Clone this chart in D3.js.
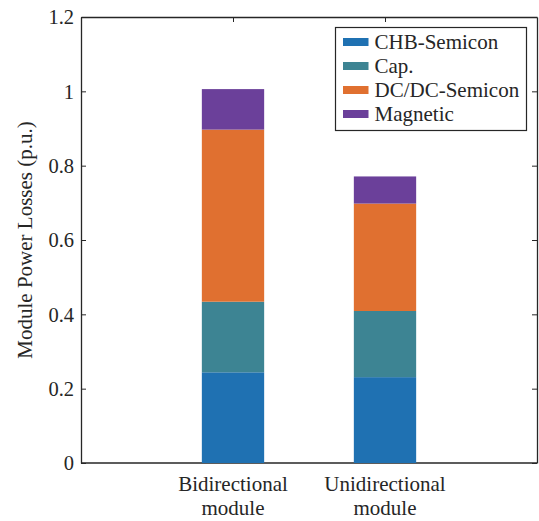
<!DOCTYPE html>
<html>
<head>
<meta charset="utf-8">
<script src="https://cdn.jsdelivr.net/npm/d3@7"></script>
<style>
  html, body { margin: 0; padding: 0; background: #fff; }
  svg { display: block; }
</style>
</head>
<body>
<svg id="chart" width="539" height="521"></svg>
<script>
// Module loss breakdown, stacked per module type (p.u.)
const categories = ["Bidirectional module", "Unidirectional module"];
const categoryLines = [["Bidirectional", "module"], ["Unidirectional", "module"]];
const seriesNames = ["CHB-Semicon", "Cap.", "DC/DC-Semicon", "Magnetic"];
const chbSemicon = [0.244, 0.231];
const cap = [0.190, 0.178];
const dcdcSemicon = [0.463, 0.289];
const magnetic = [0.109, 0.073];
const yTicks = [0, 0.2, 0.4, 0.6, 0.8, 1, 1.2];
const seriesColors = ["#1f71b2", "#3d8493", "#e07030", "#6b409a"];

const FONT = '"Liberation Serif", serif';
const svg = d3.select("#chart");
const plotLeft = 81, plotRight = 537, plotTop = 17, plotBottom = 463;
const axisColor = "#262626";

const x = d3.scaleLinear().domain([0, 3]).range([plotLeft, plotRight]);
const y = d3.scaleLinear().domain([0, 1.2]).range([plotBottom, plotTop]);
const barWidth = 0.41;

// Build the stack table from the series arrays
const table = categories.map((c, i) => ({
  idx: i + 1,
  "CHB-Semicon": chbSemicon[i],
  "Cap.": cap[i],
  "DC/DC-Semicon": dcdcSemicon[i],
  "Magnetic": magnetic[i]
}));
const stacked = d3.stack().keys(seriesNames)(table);
const color = d3.scaleOrdinal().domain(seriesNames).range(seriesColors);

// Bottom edge drawn first so the bars sit over it
svg.append("line")
  .attr("x1", plotLeft).attr("x2", plotRight).attr("y1", plotBottom).attr("y2", plotBottom)
  .attr("stroke", axisColor).attr("stroke-width", 1.3);

// Stacked bars
svg.append("g").selectAll("g")
  .data(stacked)
  .join("g")
  .attr("fill", d => color(d.key))
  .selectAll("rect")
  .data(d => d)
  .join("rect")
  .attr("x", d => x(d.data.idx - barWidth / 2))
  .attr("width", d => x(d.data.idx + barWidth / 2) - x(d.data.idx - barWidth / 2))
  .attr("y", d => y(d[1]))
  .attr("height", d => y(d[0]) - y(d[1]));

// Left axis with inward ticks
const yAxisL = svg.append("g")
  .attr("transform", `translate(${plotLeft},0)`)
  .call(d3.axisLeft(y).tickValues(yTicks).tickFormat(d3.format("")).tickSizeInner(-5).tickSizeOuter(0).tickPadding(7));
yAxisL.attr("font-family", null).attr("font-size", null);
yAxisL.select(".domain").attr("stroke", axisColor).attr("stroke-width", 1.3);
yAxisL.selectAll(".tick line").attr("stroke", axisColor);
yAxisL.selectAll(".tick text")
  .attr("fill", "#262626")
  .style("font-family", FONT)
  .style("font-size", "20.5px")
  .attr("dy", "0.33em");

// Right axis, ticks only
const yAxisR = svg.append("g")
  .attr("transform", `translate(${plotRight},0)`)
  .call(d3.axisRight(y).tickValues(yTicks).tickFormat("").tickSizeInner(-5).tickSizeOuter(0));
yAxisR.select(".domain").attr("stroke", axisColor).attr("stroke-width", 1.3);
yAxisR.selectAll(".tick line").attr("stroke", axisColor);

// Top edge with category ticks
const xAxisT = svg.append("g")
  .attr("transform", `translate(0,${plotTop})`)
  .call(d3.axisTop(x).tickValues([1, 2]).tickFormat("").tickSizeInner(-5).tickSizeOuter(0));
xAxisT.select(".domain").attr("stroke", axisColor).attr("stroke-width", 1.3);
xAxisT.selectAll(".tick line").attr("stroke", axisColor);

// Category labels (two lines each)
const catLabels = svg.append("g")
  .selectAll("text")
  .data(categoryLines)
  .join("text")
  .attr("x", (d, i) => x(i + 1))
  .attr("y", 491)
  .attr("text-anchor", "middle")
  .attr("fill", "#262626")
  .style("font-family", FONT)
  .style("font-size", "21px");
catLabels.selectAll("tspan")
  .data(d => d)
  .join("tspan")
  .attr("x", function () { return d3.select(this.parentNode).attr("x"); })
  .attr("dy", (d, i) => i === 0 ? 0 : 24)
  .text(d => d);

// Y axis title
svg.append("text")
  .attr("transform", `translate(32,${(plotTop + plotBottom) / 2}) rotate(-90)`)
  .attr("text-anchor", "middle")
  .attr("fill", "#262626")
  .style("font-family", FONT)
  .style("font-size", "21px")
  .text("Module Power Losses (p.u.)");

// Legend
const legend = svg.append("g");
legend.append("rect")
  .attr("x", 335.5).attr("y", 27.5).attr("width", 191).attr("height", 103)
  .attr("fill", "#fff").attr("stroke", axisColor).attr("stroke-width", 1.2);
const items = legend.selectAll("g.item")
  .data(seriesNames)
  .join("g")
  .attr("class", "item")
  .attr("transform", (d, i) => `translate(343,${42 + i * 24})`);
items.append("rect")
  .attr("x", 0).attr("y", -4).attr("width", 25.5).attr("height", 8)
  .attr("fill", d => color(d));
items.append("text")
  .attr("x", 31.5).attr("y", 6.8)
  .attr("fill", "#262626")
  .style("font-family", FONT)
  .style("font-size", "21px")
  .text(d => d);
</script>
</body>
</html>
